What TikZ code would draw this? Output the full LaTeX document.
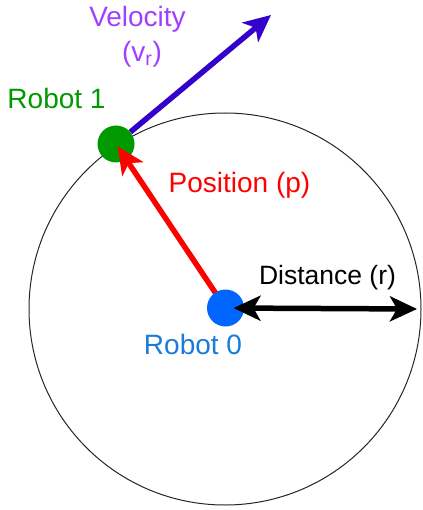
\documentclass[tikz,border=0pt]{standalone}
\usepackage{fontspec}
\setmainfont{Liberation Sans}
\usetikzlibrary{arrows.meta}
\definecolor{rgreen}{HTML}{009900}
\definecolor{rblue}{HTML}{0066FF}
\definecolor{rbluetext}{HTML}{1A7BD9}
\definecolor{velpurple}{HTML}{A040FF}
\definecolor{velarrow}{HTML}{3300CC}
\begin{document}
\begin{tikzpicture}[x=1pt,y=-1pt,
  robot/.style={circle,inner sep=0pt,minimum size=37pt},
  lbl/.style={anchor=base,inner sep=0pt,font=\fontsize{28}{31}\selectfont},
  bigtip/.style={-{Stealth[length=27pt,width=25pt,inset=7pt]}},
  vec/.style={line width=5.5pt}]
\useasboundingbox (0,0) rectangle (422,510);
\node[circle,draw=black!85,line width=1pt,minimum size=392pt,inner sep=0pt] (range) at (225,309) {};
\node[robot,fill=rgreen] (r1) at (116,144) {};
\coordinate (vend) at (271,15);
\coordinate (dend) at (417,309);
\draw[vec,velarrow,bigtip] (r1) -- (vend);
\draw[vec,red,bigtip,shorten >=3pt] (225.5,308) -- (r1.center);
\node[robot,fill=rblue] (r0) at (225.5,308) {};
\draw[vec,black,{Stealth[length=27pt,width=25pt,inset=7pt]}-{Stealth[length=27pt,width=25pt,inset=7pt]},shorten <=8pt] (r0.center) -- (dend);
\node[lbl,text=velpurple] (vlab) at (137.5,27) {Velocity};
\node[lbl,text=velpurple] (vsub) at (142,62) {(v\textsubscript{r})};
\node[lbl,text=rgreen] (r1lab) at (56.5,109) {Robot 1};
\node[lbl,text=red] (plab) at (239.5,193) {Position (p)};
\node[lbl,text=black,font=\fontsize{26.5}{29}\selectfont] (dlab) at (327.5,284) {Distance (r)};
\node[lbl,text=rbluetext] (r0lab) at (193,354) {Robot 0};
\end{tikzpicture}
\end{document}
